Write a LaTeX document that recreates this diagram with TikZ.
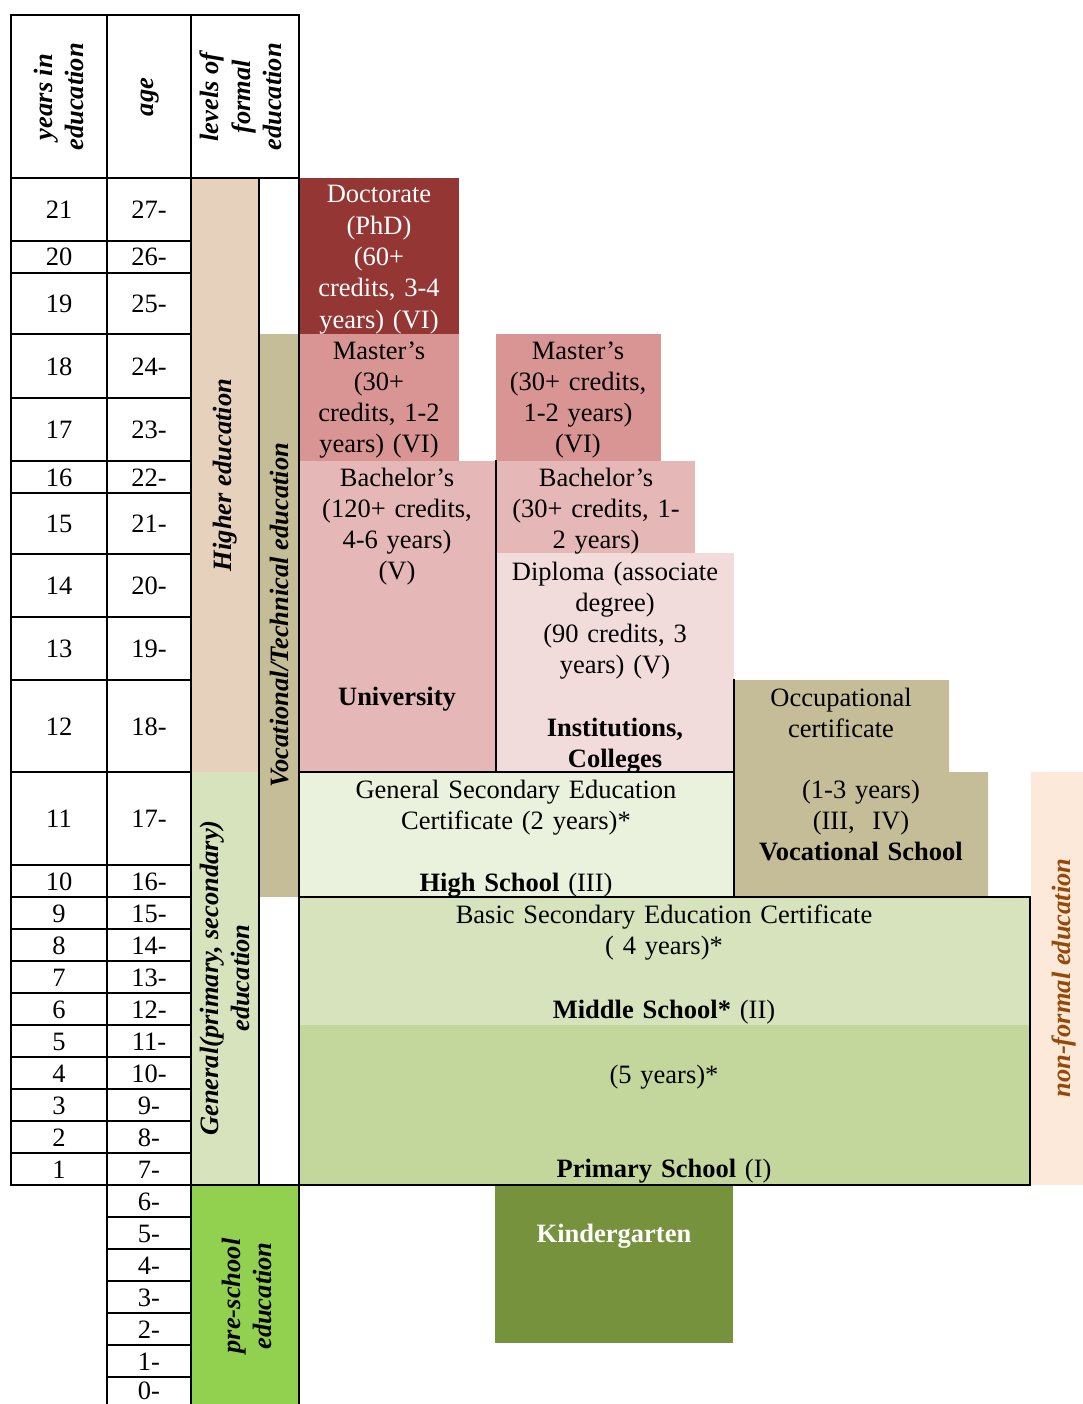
\documentclass[tikz,border=0pt]{standalone}
\usepackage{fontspec}
\setmainfont{Liberation Serif}
\newcommand\bodysize{\fontsize{26.5}{31.3}\selectfont}
\definecolor{cHigher}{HTML}{E6D1BD}
\definecolor{cKhaki}{HTML}{C4BD97}
\definecolor{cGenL}{HTML}{D7E3BC}
\definecolor{cPre}{HTML}{92D050}
\definecolor{cDoc}{HTML}{943634}
\definecolor{cMas}{HTML}{D99594}
\definecolor{cBac}{HTML}{E5B8B7}
\definecolor{cDip}{HTML}{F2DBDB}
\definecolor{cHigh}{HTML}{EAF1DD}
\definecolor{cMid}{HTML}{D7E3BC}
\definecolor{cPrim}{HTML}{C3D69B}
\definecolor{cKin}{HTML}{76923C}
\definecolor{cNon}{HTML}{FDE9D9}
\definecolor{cNonT}{HTML}{984806}
\begin{document}
\begin{tikzpicture}[x=1pt,y=-1pt,
  txt/.style={font=\bodysize, align=center, inner sep=0pt, anchor=base},
  vlabel/.style={font=\bodysize\bfseries\itshape, rotate=90, align=center, inner sep=0pt},
  rule/.style={line width=2.2pt, line cap=rect}]
\useasboundingbox (0,0) rectangle (1083,1404);
% fills
\fill[cHigher] (191,178) rectangle (259,772);
\fill[cKhaki] (259,334) rectangle (299,897);
\fill[cGenL] (191,772) rectangle (259,1185);
\fill[cPre] (191,1185) rectangle (299,1404);
\fill[cDoc] (299,178) rectangle (459,334);
\fill[cMas] (299,334) rectangle (459,461);
\fill[cMas] (496,334) rectangle (661,461);
\fill[cBac] (299,461) rectangle (496,772);
\fill[cBac] (496,461) rectangle (695,553);
\fill[cDip] (496,553) rectangle (734,772);
\fill[cKhaki] (734,680) -- (949,680) -- (949,772) -- (988,772) -- (988,897) -- (734,897) -- cycle;
\fill[cHigh] (299,772) rectangle (734,897);
\fill[cMid] (299,897) rectangle (1030,1025);
\fill[cPrim] (299,1025) rectangle (1030,1185);
\fill[cKin] (495,1185) rectangle (733,1343);
\fill[cNon] (1031,772) rectangle (1083,1185);
% table rows
\foreach \t/\b/\yr/\ag [count=\i] in {178/241/21/27-,241/273/20/26-,273/334/19/25-,334/398/18/24-,398/461/17/23-,461/493/16/22-,493/554/15/21-,554/617/14/20-,617/680/13/19-,680/772/12/18-,772/865/11/17-,865/897/10/16-,897/929/9/15-,929/961/8/14-,961/993/7/13-,993/1025/6/12-,1025/1057/5/11-,1057/1089/4/10-,1089/1121/3/9-,1121/1153/2/8-,1153/1185/1/7-}{
  \node[txt] (yr\i) at ({59},{(\t+\b)/2+9}) {\yr};
  \node[txt] (ag\i) at ({149},{(\t+\b)/2+9}) {\ag};
}
\foreach \t/\b/\ag [count=\i] in {1185/1217/6-,1217/1249/5-,1249/1281/4-,1281/1313/3-,1313/1345/2-,1345/1377/1-,1377/1403/0-}{
  \node[txt] (pa\i) at ({149},{(\t+\b)/2+9}) {\ag};
}
% lines
\draw[rule] (11,15) -- (299,15);
\draw[rule] (11,178) -- (299,178);
\draw[rule] (11,15) -- (11,1185);
\draw[rule] (107,15) -- (107,1410);
\draw[rule] (191,15) -- (191,1410);
\draw[rule] (299,15) -- (299,1410);
\draw[rule] (259,178) -- (259,1185);
\foreach \y in {241,273,334,398,461,493,554,617,680,772,865,897,929,961,993,1025,1057,1089,1121,1153}
  \draw[rule] (11,\y) -- (191,\y);
\foreach \y in {1217,1249,1281,1313,1345,1377}
  \draw[rule] (107,\y) -- (191,\y);
\draw[rule] (11,1185) -- (1030,1185);
\draw[rule] (496,461) -- (496,772);
\draw[rule] (299,772) -- (734,772);
\draw[rule] (734,680) -- (734,897);
\draw[rule] (299,897) -- (1030,897);
\draw[rule] (1030,897) -- (1030,1185);
% header labels
\node[vlabel] (hdrY) at (59,97) {years in\\education};
\node[vlabel] (hdrA) at (150,97) {age};
\node[vlabel] (hdrL) at (241,97) {levels of\\formal\\education};
\node[vlabel] (he) at (225,475) {Higher education};
\node[vlabel] (vt) at (280,615) {Vocational/Technical education};
\node[vlabel] (ge) at (225,978) {General(primary, secondary)\\education};
\node[vlabel] (pre) at (247,1296) {pre-school\\education};
\node[vlabel, text=cNonT] (nf) at (1064,978) {non-formal education};
% box texts
\node[txt, text=white, text width=158pt] (doc) at (379,203) {Doctorate\\(PhD)\\(60+\\credits, 3-4\\years) (VI)};
\node[txt, text width=158pt] (masL) at (379,359) {Master’s\\(30+\\credits, 1-2\\years) (VI)};
\node[txt, text width=163pt] (masR) at (578,359) {Master’s\\(30+ credits,\\1-2 years)\\(VI)};
\node[txt, text width=195pt] (bacL) at (397,486) {Bachelor’s\\(120+ credits,\\4-6 years)\\(V)\\[94.5pt]\textbf{University}};
\node[txt, text width=197pt] (bacR) at (596,486) {Bachelor’s\\(30+ credits, 1-\\2 years)};
\node[txt, text width=236pt] (dip) at (615,580) {Diploma (associate\\degree)\\(90 credits, 3\\years) (V)\\[31.3pt]\textbf{Institutions,}\\\textbf{Colleges}};
\node[txt, text width=213pt] (occ) at (841,706) {Occupational\\certificate};
\node[txt, text width=252pt] (voc) at (861,798) {(1-3 years)\\(III,\ \ IV)\\\textbf{Vocational School}};
\node[txt, text width=433pt] (high) at (516,798) {General Secondary Education\\Certificate (2 years)*\\[31.3pt]\textbf{High School} (III)};
\node[txt, text width=729pt] (mid) at (664,923) {Basic Secondary Education Certificate\\( 4 years)*\\[32.5pt]\textbf{Middle School*} (II)};
\node[txt, text width=729pt] (prim) at (664,1083) {(5 years)*\\[63.5pt]\textbf{Primary School} (I)};
\node[txt, text=white, font=\bodysize\bfseries] (kin) at (614,1242) {Kindergarten};
\end{tikzpicture}
\end{document}
